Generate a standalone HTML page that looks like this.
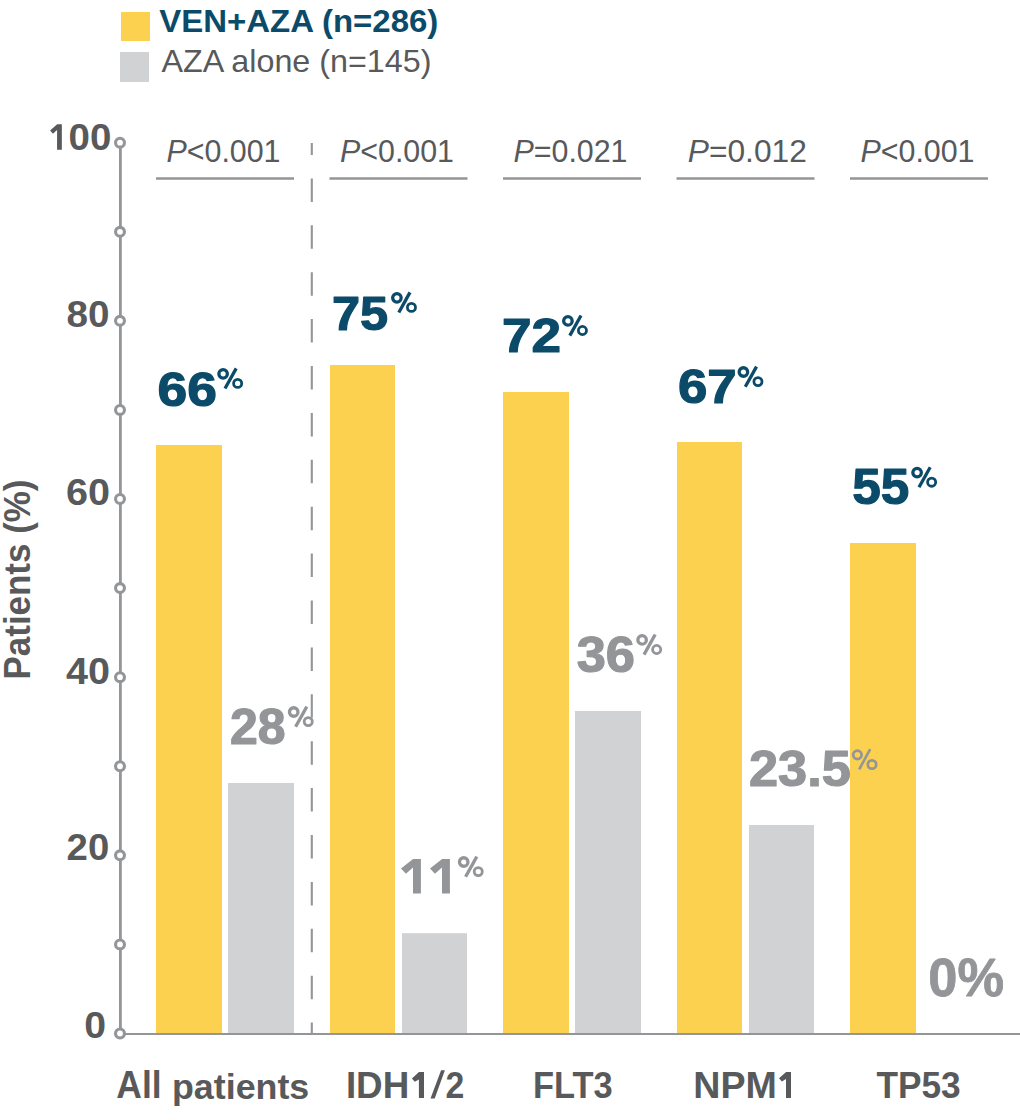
<!DOCTYPE html>
<html><head><meta charset="utf-8"><style>
html,body{margin:0;padding:0;background:#fff;width:1020px;height:1120px;overflow:hidden}
svg{display:block;font-family:"Liberation Sans",sans-serif}
</style></head><body>
<svg width="1020" height="1120" viewBox="0 0 1020 1120">
<rect width="1020" height="1120" fill="#fff"/>
<rect x="121" y="12" width="29" height="29" fill="#FCD150"/>
<rect x="120" y="52" width="29" height="30" fill="#D1D2D4"/>
<text x="159.3" y="31.5" font-size="32" font-weight="bold" fill="#0B4B69" textLength="279" lengthAdjust="spacingAndGlyphs">VEN+AZA (n=286)</text>
<text x="161.4" y="72" font-size="32" fill="#58595B" textLength="270" lengthAdjust="spacingAndGlyphs">AZA alone (n=145)</text>
<rect x="156" y="445" width="66" height="588.50" fill="#FCD150"/>
<rect x="228" y="783" width="66" height="250.50" fill="#D1D2D4"/>
<rect x="330" y="365" width="65" height="668.50" fill="#FCD150"/>
<rect x="402" y="933.2" width="65" height="100.30" fill="#D1D2D4"/>
<rect x="503" y="392" width="66" height="641.50" fill="#FCD150"/>
<rect x="575" y="711" width="66" height="322.50" fill="#D1D2D4"/>
<rect x="677" y="442" width="65" height="591.50" fill="#FCD150"/>
<rect x="749" y="825" width="65" height="208.50" fill="#D1D2D4"/>
<rect x="850" y="543" width="66" height="490.50" fill="#FCD150"/>
<line x1="311.8" y1="143" x2="311.8" y2="1033" stroke="#939598" stroke-width="2.1" stroke-dasharray="23.5 23.4" stroke-dashoffset="11.5"/>
<line x1="120.4" y1="142.7" x2="120.4" y2="1033.5" stroke="#939598" stroke-width="2.8"/>
<line x1="120" y1="1034" x2="1020" y2="1034" stroke="#939598" stroke-width="2.1"/>
<circle cx="120" cy="142.70" r="4.45" fill="#fff" stroke="#939598" stroke-width="3.1"/>
<circle cx="120" cy="231.78" r="4.45" fill="#fff" stroke="#939598" stroke-width="3.1"/>
<circle cx="120" cy="320.86" r="4.45" fill="#fff" stroke="#939598" stroke-width="3.1"/>
<circle cx="120" cy="409.94" r="4.45" fill="#fff" stroke="#939598" stroke-width="3.1"/>
<circle cx="120" cy="499.02" r="4.45" fill="#fff" stroke="#939598" stroke-width="3.1"/>
<circle cx="120" cy="588.10" r="4.45" fill="#fff" stroke="#939598" stroke-width="3.1"/>
<circle cx="120" cy="677.18" r="4.45" fill="#fff" stroke="#939598" stroke-width="3.1"/>
<circle cx="120" cy="766.26" r="4.45" fill="#fff" stroke="#939598" stroke-width="3.1"/>
<circle cx="120" cy="855.34" r="4.45" fill="#fff" stroke="#939598" stroke-width="3.1"/>
<circle cx="120" cy="944.42" r="4.45" fill="#fff" stroke="#939598" stroke-width="3.1"/>
<circle cx="120" cy="1033.50" r="4.45" fill="#fff" stroke="#939598" stroke-width="3.1"/>
<path d="M57.17,124.20 L61.84,124.20 L61.84,149.73 L57.07,149.73 L57.07,130.00 L52.94,133.80 L50.07,130.47 Z" fill="#58595B"/>
<text x="68.5" y="150.0" font-size="37" font-weight="bold" fill="#58595B" textLength="42.8" lengthAdjust="spacingAndGlyphs">00</text>
<text x="66.5" y="327.3" font-size="37" font-weight="bold" fill="#58595B" textLength="43" lengthAdjust="spacingAndGlyphs">80</text>
<text x="66" y="505.0" font-size="37" font-weight="bold" fill="#58595B" textLength="44" lengthAdjust="spacingAndGlyphs">60</text>
<text x="66" y="684.0" font-size="37" font-weight="bold" fill="#58595B" textLength="44" lengthAdjust="spacingAndGlyphs">40</text>
<text x="66.6" y="859.7" font-size="37" font-weight="bold" fill="#58595B" textLength="42.6" lengthAdjust="spacingAndGlyphs">20</text>
<text x="84.2" y="1038.3" font-size="37" font-weight="bold" fill="#58595B" textLength="21.8" lengthAdjust="spacingAndGlyphs">0</text>
<text transform="translate(29.5,679.5) rotate(-90)" x="0" y="0" font-size="36" font-weight="bold" fill="#58595B" textLength="200" lengthAdjust="spacingAndGlyphs">Patients (%)</text>
<line x1="156" y1="178.5" x2="294" y2="178.5" stroke="#939598" stroke-width="2.6"/>
<line x1="329.5" y1="178.5" x2="467.5" y2="178.5" stroke="#939598" stroke-width="2.6"/>
<line x1="503" y1="178.5" x2="641" y2="178.5" stroke="#939598" stroke-width="2.6"/>
<line x1="676.5" y1="178.5" x2="814.5" y2="178.5" stroke="#939598" stroke-width="2.6"/>
<line x1="850" y1="178.5" x2="988" y2="178.5" stroke="#939598" stroke-width="2.6"/>
<text x="223.5" y="161.5" font-size="32" fill="#58595B" text-anchor="middle" textLength="114" lengthAdjust="spacingAndGlyphs"><tspan font-style="italic">P</tspan>&lt;0.001</text>
<text x="397.0" y="161.5" font-size="32" fill="#58595B" text-anchor="middle" textLength="114" lengthAdjust="spacingAndGlyphs"><tspan font-style="italic">P</tspan>&lt;0.001</text>
<text x="570.5" y="161.5" font-size="32" fill="#58595B" text-anchor="middle" textLength="114" lengthAdjust="spacingAndGlyphs"><tspan font-style="italic">P</tspan>=0.021</text>
<text x="747.3" y="161.5" font-size="32" fill="#58595B" text-anchor="middle" textLength="119" lengthAdjust="spacingAndGlyphs"><tspan font-style="italic">P</tspan>=0.012</text>
<text x="917.5" y="161.5" font-size="32" fill="#58595B" text-anchor="middle" textLength="114" lengthAdjust="spacingAndGlyphs"><tspan font-style="italic">P</tspan>&lt;0.001</text>
<g transform="translate(217.2,367)" fill="none" stroke="#0B4B69"><circle cx="5.9" cy="6.8" r="4.25" stroke-width="3.3"/><circle cx="20.45" cy="16.4" r="4.05" stroke-width="2.8"/><line x1="7.8" y1="21.5" x2="19" y2="1.4" stroke-width="3.3"/></g>
<g transform="translate(391,291)" fill="none" stroke="#0B4B69"><circle cx="5.9" cy="6.8" r="4.25" stroke-width="3.3"/><circle cx="20.45" cy="16.4" r="4.05" stroke-width="2.8"/><line x1="7.8" y1="21.5" x2="19" y2="1.4" stroke-width="3.3"/></g>
<g transform="translate(562,314.1)" fill="none" stroke="#0B4B69"><circle cx="5.9" cy="6.8" r="4.25" stroke-width="3.3"/><circle cx="20.45" cy="16.4" r="4.05" stroke-width="2.8"/><line x1="7.8" y1="21.5" x2="19" y2="1.4" stroke-width="3.3"/></g>
<g transform="translate(737.5,365.2)" fill="none" stroke="#0B4B69"><circle cx="5.9" cy="6.8" r="4.25" stroke-width="3.3"/><circle cx="20.45" cy="16.4" r="4.05" stroke-width="2.8"/><line x1="7.8" y1="21.5" x2="19" y2="1.4" stroke-width="3.3"/></g>
<g transform="translate(911.2,465.8)" fill="none" stroke="#0B4B69"><circle cx="5.9" cy="6.8" r="4.25" stroke-width="3.3"/><circle cx="20.45" cy="16.4" r="4.05" stroke-width="2.8"/><line x1="7.8" y1="21.5" x2="19" y2="1.4" stroke-width="3.3"/></g>
<g transform="translate(287.8,705.2)" fill="none" stroke="#939598"><circle cx="5.9" cy="6.8" r="4.25" stroke-width="3.3"/><circle cx="20.45" cy="16.4" r="4.05" stroke-width="2.8"/><line x1="7.8" y1="21.5" x2="19" y2="1.4" stroke-width="3.3"/></g>
<g transform="translate(457.8,855.2)" fill="none" stroke="#939598"><circle cx="5.9" cy="6.8" r="4.25" stroke-width="3.3"/><circle cx="20.45" cy="16.4" r="4.05" stroke-width="2.8"/><line x1="7.8" y1="21.5" x2="19" y2="1.4" stroke-width="3.3"/></g>
<g transform="translate(636.2,633.1)" fill="none" stroke="#939598"><circle cx="5.9" cy="6.8" r="4.25" stroke-width="3.3"/><circle cx="20.45" cy="16.4" r="4.05" stroke-width="2.8"/><line x1="7.8" y1="21.5" x2="19" y2="1.4" stroke-width="3.3"/></g>
<g transform="translate(852,748.5)" fill="none" stroke="#939598"><circle cx="5.4" cy="6.35" r="4.2" stroke-width="2.7"/><circle cx="20" cy="16" r="4.2" stroke-width="2.7"/><line x1="7.2" y1="20.8" x2="18.2" y2="0.7" stroke-width="2.6"/></g>
<text x="157.60" y="406.00" font-size="49.01" font-weight="bold" fill="#0B4B69" stroke="#0B4B69" stroke-width="1.2" stroke-linejoin="round" textLength="59.42" lengthAdjust="spacingAndGlyphs">66</text>
<text x="331.90" y="329.50" font-size="48.47" font-weight="bold" fill="#0B4B69" stroke="#0B4B69" stroke-width="1.2" stroke-linejoin="round" textLength="56.21" lengthAdjust="spacingAndGlyphs">75</text>
<text x="501.90" y="352.30" font-size="47.97" font-weight="bold" fill="#0B4B69" stroke="#0B4B69" stroke-width="1.2" stroke-linejoin="round" textLength="59.03" lengthAdjust="spacingAndGlyphs">72</text>
<text x="678.00" y="403.00" font-size="49.01" font-weight="bold" fill="#0B4B69" stroke="#0B4B69" stroke-width="1.2" stroke-linejoin="round" textLength="58.73" lengthAdjust="spacingAndGlyphs">67</text>
<text x="852.30" y="503.60" font-size="50.12" font-weight="bold" fill="#0B4B69" stroke="#0B4B69" stroke-width="1.2" stroke-linejoin="round" textLength="57.03" lengthAdjust="spacingAndGlyphs">55</text>
<text x="230.00" y="743.80" font-size="50.00" font-weight="bold" fill="#939598" stroke="#939598" stroke-width="1.2" stroke-linejoin="round">28</text>
<text x="576.70" y="672.00" font-size="50.00" font-weight="bold" fill="#939598" stroke="#939598" stroke-width="1.2" stroke-linejoin="round" textLength="58.32" lengthAdjust="spacingAndGlyphs">36</text>
<text x="749.00" y="786.20" font-size="50.00" font-weight="bold" fill="#939598" stroke="#939598" stroke-width="1.2" stroke-linejoin="round" textLength="101.93" lengthAdjust="spacingAndGlyphs">23.5</text>
<text x="928.30" y="995.60" font-size="53.00" font-weight="bold" fill="#939598" stroke="#939598" stroke-width="0.8" stroke-linejoin="round" textLength="75.71" lengthAdjust="spacingAndGlyphs">0%</text>
<path d="M413.10,859.10 L420.90,859.10 L420.90,893.60 L413.00,893.60 L413.00,867.60 L405.92,873.75 L401.00,868.50 Z" fill="#939598"/>
<path d="M442.10,859.10 L449.90,859.10 L449.90,893.60 L442.00,893.60 L442.00,867.60 L434.92,873.75 L430.00,868.50 Z" fill="#939598"/>
<text x="345.90" y="1097.90" font-size="37.60" font-weight="bold" fill="#58595B" textLength="63.32" lengthAdjust="spacingAndGlyphs">IDH</text>
<text x="445.60" y="1098.00" font-size="37.60" font-weight="bold" fill="#58595B" textLength="18.81" lengthAdjust="spacingAndGlyphs">2</text>
<text x="116.30" y="1097.60" font-size="38.85" font-weight="bold" fill="#58595B" textLength="45.33" lengthAdjust="spacingAndGlyphs">All</text>
<text x="172.00" y="1098.90" font-size="34.50" font-weight="bold" fill="#58595B" textLength="137.28" lengthAdjust="spacingAndGlyphs">patients</text>
<text x="693.30" y="1098.30" font-size="37.60" font-weight="bold" fill="#58595B">NPM</text>
<path d="M441.1,1070.2 L444.9,1070.2 L434.7,1098.6 L430.5,1098.6 Z" fill="#58595B"/>
<path d="M419.00,1072.10 L424.00,1072.10 L424.00,1098.00 L418.90,1098.00 L418.90,1079.50 L414.77,1081.80 L411.90,1078.50 Z" fill="#58595B"/>
<path d="M786.10,1072.00 L791.00,1072.00 L791.00,1097.90 L786.00,1097.90 L786.00,1079.00 L781.87,1081.60 L779.00,1078.20 Z" fill="#58595B"/>
<text x="533" y="1098" font-size="37.6" font-weight="bold" fill="#58595B" textLength="79.7" lengthAdjust="spacingAndGlyphs">FLT3</text>
<text x="876.5" y="1098" font-size="37.6" font-weight="bold" fill="#58595B" textLength="84.2" lengthAdjust="spacingAndGlyphs">TP53</text>
</svg></body></html>
